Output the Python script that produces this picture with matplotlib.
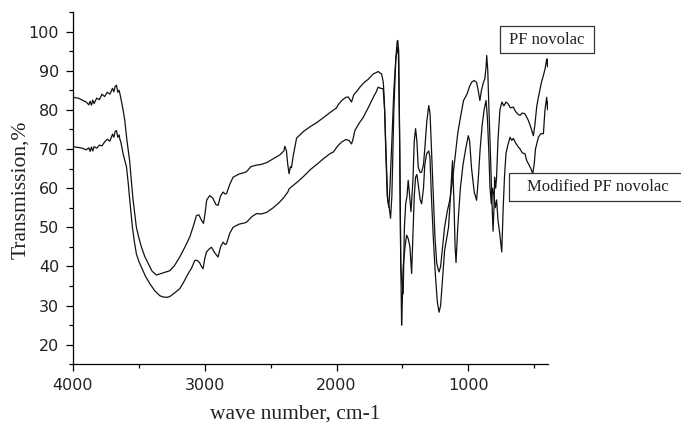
import matplotlib
matplotlib.use("Agg")
import matplotlib.pyplot as plt
from matplotlib.patches import Rectangle
from matplotlib.ticker import MultipleLocator

# ---------------- data ----------------
pf_wn = [4000, 3960, 3930, 3900, 3880, 3870, 3860, 3850, 3840, 3820, 3800, 3780, 3760, 3740,
         3720, 3700, 3690, 3680, 3670, 3660, 3650, 3640, 3620, 3607, 3590, 3570, 3555, 3544,
         3519, 3500, 3481, 3455, 3430, 3400, 3367, 3330, 3300, 3266, 3230, 3190, 3150, 3114,
         3085, 3063, 3045, 3025, 3010, 3000, 2985, 2962, 2940, 2915, 2899, 2880, 2861, 2845,
         2835, 2810, 2785, 2740, 2700, 2683, 2650, 2607, 2580, 2531, 2480, 2430, 2400, 2392,
         2380, 2370, 2360, 2350, 2342, 2330, 2303, 2250, 2200, 2152, 2100, 2050, 2000, 1988,
         1960, 1930, 1911, 1886, 1870, 1840, 1823, 1790, 1760, 1721, 1700, 1684, 1670, 1658,
         1645, 1638, 1625, 1612, 1600, 1590, 1580, 1565, 1550, 1540, 1535, 1528, 1520, 1512,
         1504, 1494, 1485, 1475, 1465, 1456, 1445, 1435, 1420, 1410, 1400, 1390, 1380, 1365,
         1354, 1340, 1329, 1315, 1300, 1290, 1278, 1265, 1253, 1240, 1228, 1222, 1210, 1195,
         1180, 1160, 1140, 1120, 1100, 1080, 1060, 1036, 1010, 990, 974, 955, 937, 925, 912,
         900, 885, 874, 865, 860, 852, 845, 835, 822, 812, 805, 800, 792, 785, 775, 760, 745,
         730, 714, 697, 680, 658, 640, 620, 607, 590, 570, 555, 544, 525, 506, 495, 480, 468,
         455, 445, 430, 417, 405, 398, 395]
pf_t = [83.2, 83.0, 82.5, 82.0, 81.3, 82.2, 81.2, 82.5, 81.6, 83.0, 82.6, 84.0, 83.4, 84.5,
        84.0, 85.5, 84.6, 86.0, 86.3, 84.5, 85.0, 83.5, 80.0, 77.3, 72.0, 67.0, 61.0, 57.0,
        50.0, 47.3, 45.0, 42.5, 40.8, 38.8, 37.8, 38.2, 38.5, 38.9, 40.2, 42.4, 45.0, 47.5,
        50.5, 53.0, 53.2, 51.8, 51.0, 53.0, 57.0, 58.1, 57.5, 55.8, 55.6, 58.0, 59.0, 58.5,
        58.6, 61.0, 62.8, 63.6, 64.0, 64.2, 65.5, 65.9, 66.0, 66.5, 67.5, 68.5, 69.5, 70.7,
        69.5, 66.0, 63.7, 65.5, 65.2, 68.0, 72.8, 74.5, 75.7, 76.7, 78.0, 79.3, 80.5, 81.3,
        82.4, 83.2, 83.3, 82.0, 83.8, 85.0, 85.8, 87.0, 87.8, 89.2, 89.5, 89.8, 89.4, 89.2,
        87.0, 83.0, 70.0, 57.0, 55.0, 52.3, 58.0, 80.0, 93.0, 97.5, 97.7, 95.0, 70.0, 40.0,
        36.0, 33.0, 50.0, 56.0, 58.0, 62.0, 58.0, 54.0, 62.0, 72.0, 75.2, 72.0, 65.4, 64.0,
        64.1, 66.0, 70.5, 77.0, 81.1, 79.0, 68.8, 58.0, 47.5, 41.0, 39.2, 38.6, 40.0, 45.0,
        50.0, 54.0, 57.0, 62.0, 68.0, 74.0, 78.0, 82.4, 84.0, 86.0, 87.1, 87.5, 87.0, 85.0, 82.4,
        85.0, 87.0, 88.0, 91.0, 93.9, 90.0, 82.0, 72.0, 58.0, 49.0, 55.0, 62.8, 60.0, 63.0, 72.0, 80.0, 82.0,
        81.0, 82.0, 81.5, 80.5, 80.7, 79.5, 78.8, 78.6, 79.2, 79.0, 78.0, 77.3, 75.5, 73.4, 76.0, 81.0, 83.2,
        85.4, 87.0, 88.8, 90.5, 93.0, 91.0, 93.0]

mod_wn = [4000, 3960, 3930, 3900, 3880, 3870, 3860, 3850, 3840, 3820, 3800, 3780, 3760, 3740,
          3720, 3700, 3690, 3680, 3670, 3660, 3650, 3645, 3635, 3620, 3594, 3580, 3569, 3549,
          3535, 3519, 3500, 3481, 3450, 3417, 3380, 3340, 3316, 3290, 3266, 3230, 3190, 3160,
          3127, 3100, 3076, 3060, 3040, 3025, 3013, 3000, 2987, 2965, 2949, 2925, 2899, 2880,
          2861, 2845, 2835, 2810, 2785, 2740, 2700, 2683, 2640, 2607, 2570, 2531, 2480, 2430,
          2400, 2370, 2360, 2354, 2300, 2250, 2200, 2152, 2100, 2050, 2025, 1988, 1960, 1930,
          1905, 1886, 1875, 1861, 1830, 1797, 1760, 1721, 1700, 1684, 1665, 1646, 1635, 1625,
          1615, 1603, 1595, 1580, 1565, 1550, 1538, 1530, 1522, 1514, 1506, 1500, 1494, 1480,
          1468, 1455, 1443, 1430, 1420, 1410, 1400, 1390, 1380, 1365, 1354, 1340, 1330, 1316,
          1300, 1291, 1280, 1265, 1250, 1235, 1222, 1210, 1195, 1180, 1165, 1150, 1135, 1120,
          1110, 1100, 1093, 1080, 1060, 1040, 1020, 1000, 990, 975, 955, 937, 925, 910, 895,
          880, 865, 855, 845, 835, 825, 815, 805, 795, 785, 775, 760, 746, 735, 725, 714, 700,
          683, 670, 658, 640, 620, 607, 590, 570, 556, 540, 525, 511, 500, 490, 468, 450, 430,
          418, 405, 398, 395]
mod_t = [70.6, 70.4, 70.2, 69.8, 70.3, 69.4, 70.5, 69.5, 70.6, 70.2, 71.0, 70.8, 71.8, 72.5,
         72.0, 73.8, 73.0, 74.5, 74.7, 73.0, 73.6, 72.6, 71.5, 68.8, 65.4, 61.0, 56.9, 50.0,
         46.5, 43.2, 41.3, 39.8, 37.5, 35.6, 33.8, 32.5, 32.2, 32.1, 32.3, 33.2, 34.3, 36.0,
         38.1, 39.6, 41.5, 41.6, 41.0, 40.0, 39.4, 42.0, 43.7, 44.5, 44.9, 43.5, 42.4, 45.0,
         46.2, 45.6, 45.8, 48.5, 50.0, 50.8, 51.1, 51.3, 52.8, 53.5, 53.4, 53.8, 55.0, 56.5,
         57.6, 59.0, 59.8, 60.0, 61.5, 63.0, 64.7, 66.0, 67.5, 68.8, 69.2, 70.9, 71.8, 72.4,
         72.2, 71.3, 72.5, 74.7, 76.5, 78.1, 80.5, 83.2, 84.5, 85.8, 85.5, 85.4, 80.0, 68.0,
         58.0, 55.1, 60.0, 72.0, 85.0, 93.0, 96.0, 94.0, 75.0, 45.0, 25.0, 32.0, 40.0, 45.0,
         48.0, 47.0, 45.0, 38.2, 48.0, 58.0, 62.8, 63.5, 61.0, 57.0, 56.0, 60.0, 66.0, 68.8,
         69.5, 68.0, 58.0, 47.0, 38.0, 31.0, 28.3, 30.0, 37.0, 44.0, 47.0, 50.0, 58.0, 67.0,
         58.0, 45.0, 41.0, 50.0, 60.0, 66.0, 70.0, 73.4, 72.0, 65.0, 59.0, 56.9, 62.0, 70.0, 76.0,
         80.0, 82.4, 78.0, 70.0, 60.0, 56.0, 60.0, 58.0, 55.0, 57.0, 52.0, 48.0, 43.7, 55.0, 63.0, 68.8, 71.0,
         73.0, 72.2, 72.7, 71.5, 70.5, 70.0, 69.0, 68.8, 67.0, 66.0, 65.0, 63.7, 66.0, 70.0, 73.0, 73.9, 73.9,
         80.0, 83.2, 80.0, 82.0]

x_ticks = [4000, 3000, 2000, 1000]
y_ticks = [20, 30, 40, 50, 60, 70, 80, 90, 100]
x_label = "wave number, cm-1"
y_label = "Transmission,%"
label_pf = "PF novolac"
label_mod = "Modified PF novolac"

# ---------------- figure ----------------
W, H = 681, 424
fig = plt.figure(figsize=(W / 100, H / 100), dpi=100)
ax = fig.add_axes([73 / W, 1 - 364.3 / H, (548 - 73) / W, (364.3 - 12) / H])

ax.plot(pf_wn, pf_t, color="#111111", lw=0.9)
ax.plot(mod_wn, mod_t, color="#111111", lw=0.9)

ax.set_xlim(4000, 395)
ax.set_ylim(15, 105)
ax.set_xticks(x_ticks)
ax.set_yticks(y_ticks)
ax.xaxis.set_minor_locator(MultipleLocator(500))
ax.yaxis.set_minor_locator(MultipleLocator(5))
for s in ("top", "right"):
    ax.spines[s].set_visible(False)
for s in ("left", "bottom"):
    ax.spines[s].set_linewidth(0.9)
ax.tick_params(which="major", length=5, width=0.9, direction="out", labelsize=11.5, pad=5)
ax.tick_params(which="minor", length=3, width=0.9, direction="out")
for lab in ax.get_xticklabels() + ax.get_yticklabels():
    lab.set_fontfamily("DejaVu Sans")
    lab.set_color("#222222")

serif = "Liberation Serif"
fig.text(295.5 / W, 1 - 418.5 / H, x_label, family=serif, fontsize=15.5,
         ha="center", va="baseline", color="#222222")
fig.text(25 / W, 1 - 190 / H, y_label, family=serif, fontsize=15.5, rotation=90,
         rotation_mode="anchor", ha="center", va="baseline", color="#222222")

# label boxes
def box(x0, y0, x1, y1):
    fig.add_artist(Rectangle((x0 / W, 1 - y1 / H), (x1 - x0) / W, (y1 - y0) / H,
                             transform=fig.transFigure, fill=False, lw=0.9,
                             edgecolor="#333333", clip_on=False))

box(500, 26, 594, 53)
fig.text(547 / W, 1 - 39.5 / H, label_pf, family=serif, fontsize=12,
         ha="center", va="center", color="#222222")
box(509, 173, 700, 201)
fig.text(597.8 / W, 1 - 187 / H, label_mod, family=serif, fontsize=12,
         ha="center", va="center", color="#222222")

fig.savefig("out.png", dpi=100)
